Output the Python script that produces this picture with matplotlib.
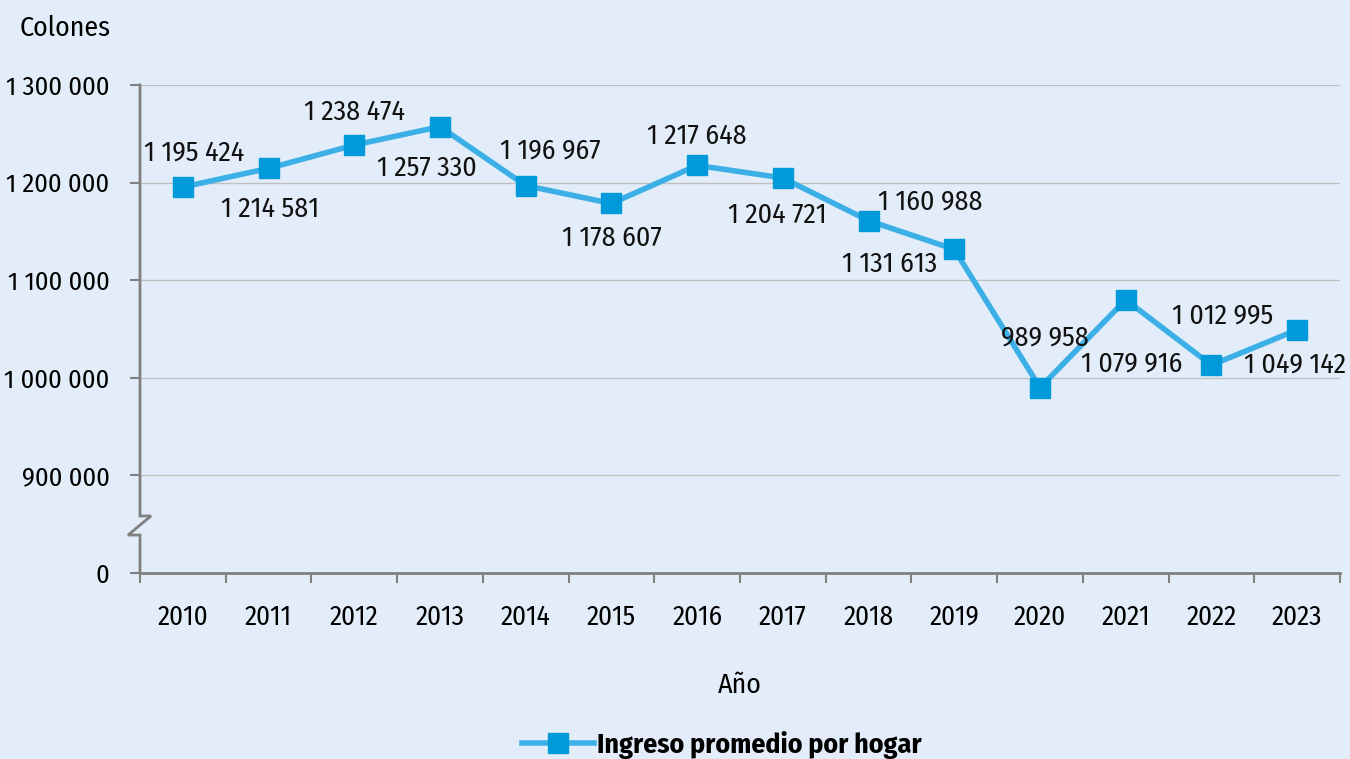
import matplotlib

matplotlib.use("Agg")
import matplotlib.pyplot as plt
from matplotlib.lines import Line2D
import numpy as np

plt.rcParams["font.family"] = ["Fira Sans Condensed", "PT Sans Narrow",
                               "Open Sans Condensed", "Roboto Condensed",
                               "Archivo Narrow", "Asap Condensed", "DejaVu Sans"]

YEARS = ["2010", "2011", "2012", "2013", "2014", "2015", "2016",
         "2017", "2018", "2019", "2020", "2021", "2022", "2023"]
INCOME = [1195424, 1214581, 1238474, 1257330, 1196967, 1178607, 1217648,
          1204721, 1160988, 1131613, 989958, 1079916, 1012995, 1049142]
Y_TICKS = [800000, 900000, 1000000, 1100000, 1200000, 1300000]
Y_TICK_LABELS = ["0", "900 000", "1 000 000", "1 100 000", "1 200 000", "1 300 000"]
# label offsets in pixels (dx, dy) relative to each point
LABEL_OFFSETS = [(11, 34), (1, -41), (0, 33), (-13, -42), (25, 35), (0, -35),
                 (0, 29), (-6, -37), (62, 19), (-65, -15), (5, 50), (6, -64),
                 (11, 49), (-2, -35)]

BG = "#E3EDF9"
LINE_COLOR = "#3CB0E6"
MARKER_COLOR = "#0099D9"
AXIS_COLOR = "#808080"


def fmt(v: int) -> str:
    return f"{v:,}".replace(",", " ")


fig = plt.figure(figsize=(13.5, 7.59), dpi=100, facecolor=BG)
ax = fig.add_axes([140 / 1350, 1 - 573 / 759, 1200 / 1350, (573 - 85) / 759])
ax.set_facecolor(BG)

x = np.arange(len(YEARS))
ax.plot(x, INCOME, color=LINE_COLOR, lw=4, marker="s", ms=14,
        mfc=MARKER_COLOR, mec=MARKER_COLOR, zorder=3)

for xi, v, (dx, dy) in zip(x, INCOME, LABEL_OFFSETS):
    ax.annotate(fmt(v), (xi, v), xytext=(dx, dy), textcoords="offset pixels",
                ha="center", va="center", fontsize=20, color="#111111")

ax.set_xlim(-0.5, len(YEARS) - 0.5)
ax.set_ylim(800000, 1300000)
ax.set_yticks(Y_TICKS)
ax.set_yticklabels(Y_TICK_LABELS, fontsize=19)
ax.set_xticks(x)
ax.set_xticklabels(YEARS, fontsize=19.5)
ax.tick_params(axis="x", length=0, pad=22)
ax.set_xticks(np.arange(-0.5, len(YEARS), 1), minor=True)
ax.tick_params(axis="x", which="minor", length=7, width=1.5, color=AXIS_COLOR,
               direction="out")
ax.tick_params(axis="y", length=7, width=1.5, color=AXIS_COLOR, pad=15)

for y in Y_TICKS[1:]:
    ax.axhline(y, color="#C0C0C0", lw=1, zorder=1)

for s in ["top", "right", "left"]:
    ax.spines[s].set_visible(False)
ax.spines["bottom"].set_color(AXIS_COLOR)
ax.spines["bottom"].set_linewidth(2)

# left axis with break mark
trans = ax.get_yaxis_transform()
w = 1200.0
ax.plot([0, 0, 11 / w, -12 / w, 0, 0],
        [1300000, 858400, 858400, 838900, 838900, 800000],
        transform=trans, color=AXIS_COLOR, lw=2, clip_on=False, zorder=4,
        solid_joinstyle="miter")

ax.set_xlabel("Año", fontsize=20, labelpad=30)
fig.text(20 / 1350, 1 - 28 / 759, "Colones", fontsize=20, va="center", ha="left")

handle = Line2D([], [], color=LINE_COLOR, lw=4, marker="s", ms=14,
                mfc=MARKER_COLOR, mec=MARKER_COLOR)
fig.legend([handle], ["Ingreso promedio por hogar"], loc="center",
           bbox_to_anchor=(722 / 1350, 1 - 745 / 759), frameon=False,
           prop={"size": 20, "weight": "bold"}, handlelength=2.6,
           handletextpad=0.1)

fig.savefig("out.png", dpi=100, facecolor=BG)
